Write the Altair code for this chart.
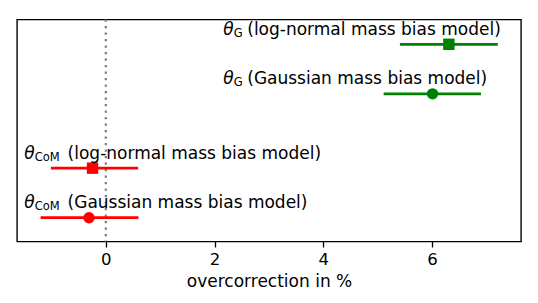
import altair as alt
import pandas as pd

# ---- data ----
param = ["G", "G", "CoM", "CoM"]
rest_text = [
    "(log-normal mass bias model)",
    "(Gaussian mass bias model)",
    "(log-normal mass bias model)",
    "(Gaussian mass bias model)",
]
model = ["log-normal", "Gaussian", "log-normal", "Gaussian"]
center = [6.31, 6.01, -0.245, -0.31]
low = [5.41, 5.11, -1.01, -1.20]
high = [7.21, 6.90, 0.595, 0.60]
ypos = [3.5, 2.5, 1.0, 0.0]
label_x = [2.16, 2.16, -1.5, -1.5]
x_ticks = [0, 2, 4, 6]
x_domain = [-1.634, 7.637]
y_domain = [-0.48, 4.0]
ref_line = [0]

df = pd.DataFrame({
    "param": param, "rest": rest_text, "model": model,
    "center": center, "low": low, "high": high,
    "y": ypos, "label_x": label_x,
})
ref_df = pd.DataFrame({"x": ref_line})

FONT = "DejaVu Sans"

xscale = alt.Scale(domain=x_domain, nice=False, zero=False)
yscale = alt.Scale(domain=y_domain, nice=False, zero=False)
color_scale = alt.Scale(domain=["G", "CoM"], range=["#008000", "#ff0000"])
shape_scale = alt.Scale(domain=["log-normal", "Gaussian"], range=["square", "circle"])

X = alt.X("center:Q", scale=xscale,
          axis=alt.Axis(values=x_ticks, title="overcorrection in %", grid=False,
                        format="d"))
Y = alt.Y("y:Q", scale=yscale, axis=None)

base = alt.Chart(df)

zero = alt.Chart(ref_df).mark_rule(color="#808080", strokeWidth=2.3,
                                   strokeDash=[2.3, 4.2]).encode(
    x=alt.X("x:Q", scale=xscale)
)

bars = base.mark_rule(strokeWidth=2.8).encode(
    x=alt.X("low:Q", scale=xscale), x2="high:Q", y=Y,
    color=alt.Color("param:N", scale=color_scale, legend=None),
)

points = base.mark_point(filled=True, opacity=1, size=130).encode(
    x=X, y=Y,
    color=alt.Color("param:N", scale=color_scale, legend=None),
    shape=alt.Shape("model:N", scale=shape_scale, legend=None),
)

theta = base.mark_text(text="θ", font=FONT, fontSize=17, fontStyle="italic",
                       align="left", baseline="alphabetic", dy=-9.5,
                       color="black").encode(
    x=alt.X("label_x:Q", scale=xscale), y=Y,
)

sub = base.mark_text(font=FONT, fontSize=11.5, align="left",
                     baseline="alphabetic", dx=10.5, dy=-7.5,
                     color="black").encode(
    x=alt.X("label_x:Q", scale=xscale), y=Y, text="param:N",
)

rest_g = base.transform_filter(alt.datum.param == "G").mark_text(
    font=FONT, fontSize=17, align="left", baseline="alphabetic",
    dx=24, dy=-9.5, color="black").encode(
    x=alt.X("label_x:Q", scale=xscale), y=Y, text="rest:N",
)

rest_c = base.transform_filter(alt.datum.param == "CoM").mark_text(
    font=FONT, fontSize=17, align="left", baseline="alphabetic",
    dx=43.3, dy=-9.5, color="black").encode(
    x=alt.X("label_x:Q", scale=xscale), y=Y, text="rest:N",
)

chart = alt.layer(zero, bars, points, theta, sub, rest_g, rest_c).properties(
    width=504, height=222,
    padding={"left": 9, "top": 9.5, "right": 5, "bottom": 5},
).configure_view(
    stroke="black", strokeWidth=1.4,
).configure_axis(
    labelFont=FONT, titleFont=FONT, labelFontSize=16.5, titleFontSize=17,
    labelColor="black", titleColor="black", titleFontWeight="normal",
    tickColor="black", tickWidth=1.3, tickSize=5.5, domain=False,
    labelPadding=4.5, titlePadding=5,
)

chart.save("out.html", embed_options={"renderer": "svg", "actions": False})
